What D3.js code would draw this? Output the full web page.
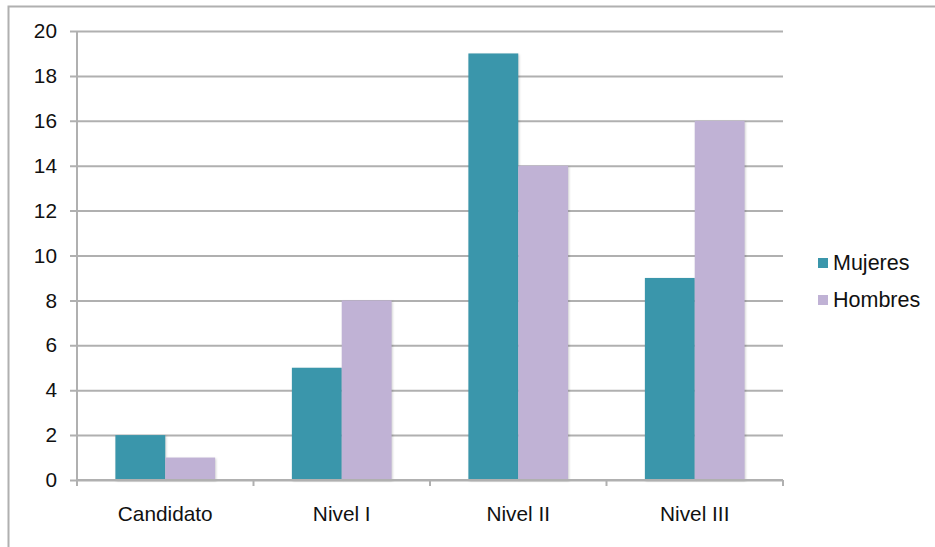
<!DOCTYPE html>
<html>
<head>
<meta charset="utf-8">
<script src="https://cdn.jsdelivr.net/npm/d3@7"></script>
<style>
  html, body { margin: 0; padding: 0; background: #fff; }
  svg { display: block; font-family: "Liberation Sans", Arial, Helvetica, sans-serif; }
</style>
</head>
<body>
<svg id="chart" width="935" height="547"></svg>
<script>
// Categories, series and values
const categories = ["Candidato", "Nivel I", "Nivel II", "Nivel III"];
const seriesNames = ["Mujeres", "Hombres"];
const mujeres = [2, 5, 19, 9];
const hombres = [1, 8, 14, 16];
const yTicks = [0, 2, 4, 6, 8, 10, 12, 14, 16, 18, 20];
const seriesColors = ["#3a96ab", "#c0b2d5"];

const seriesValues = [mujeres, hombres];
const data = categories.map((c, i) => ({
  category: c,
  values: seriesNames.map((s, j) => ({ series: s, value: seriesValues[j][i] }))
}));

const svg = d3.select("#chart");
const gridColor = "#b0b0b0";
const textColor = "#111";
const labelSize = 20.8;

// Outer frame
svg.append("rect")
  .attr("x", 8.5).attr("y", 6.5)
  .attr("width", 940).attr("height", 560)
  .attr("fill", "none").attr("stroke", gridColor).attr("stroke-width", 2);

const plot = { left: 77, right: 783, top: 31, bottom: 480 };

const x0 = d3.scaleBand().domain(categories).range([plot.left, plot.right]).padding(0);
const x1 = d3.scaleBand().domain(seriesNames)
  .range([x0.bandwidth() * 0.2175, x0.bandwidth() * 0.7825]).padding(0);
const y = d3.scaleLinear().domain([0, 20]).range([plot.bottom, plot.top]);

// Horizontal gridlines with tick stubs on the left
const yAxis = d3.axisLeft(y).tickValues(yTicks).tickSize(-(plot.right - plot.left)).tickPadding(20);
const gy = svg.append("g").attr("transform", `translate(${plot.left},0)`).call(yAxis);
gy.attr("font-size", null).attr("font-family", null);
gy.select(".domain").remove();
gy.selectAll(".tick line")
  .attr("x1", -7)
  .attr("stroke", gridColor).attr("stroke-width", 2);
gy.selectAll(".tick text")
  .style("font-size", labelSize + "px").attr("fill", textColor);

// Bars
const groups = svg.append("g").selectAll("g")
  .data(data).join("g")
  .attr("transform", d => `translate(${x0(d.category)},0)`);

groups.selectAll("rect")
  .data(d => d.values).join("rect")
  .attr("x", d => x1(d.series))
  .attr("y", d => y(d.value))
  .attr("width", x1.bandwidth())
  .attr("height", d => y(0) - y(d.value))
  .attr("fill", (d, i) => seriesColors[i])
  .style("filter", "drop-shadow(1px 1px 1px rgba(0,0,0,0.18))");

// Vertical axis line
svg.append("line")
  .attr("x1", plot.left).attr("x2", plot.left)
  .attr("y1", plot.top).attr("y2", plot.bottom + 6)
  .attr("stroke", gridColor).attr("stroke-width", 2);

// Category axis
const xAxis = d3.axisBottom(x0).tickSize(0).tickPadding(26);
const gx = svg.append("g").attr("transform", `translate(0,${plot.bottom})`).call(xAxis);
gx.attr("font-size", null).attr("font-family", null);
gx.select(".domain").attr("stroke", gridColor).attr("stroke-width", 2)
  .attr("d", `M${plot.left},0H${plot.right}`);
gx.selectAll(".tick text")
  .style("font-size", labelSize + "px").attr("fill", textColor);
// Boundary tick marks between categories
const bounds = categories.map(c => x0(c)).concat([plot.right]);
svg.append("g").selectAll("line").data(bounds).join("line")
  .attr("x1", d => d).attr("x2", d => d)
  .attr("y1", plot.bottom).attr("y2", plot.bottom + 6)
  .attr("stroke", gridColor).attr("stroke-width", 2);

// Legend
const legend = svg.append("g").attr("transform", "translate(818,258)");
const items = legend.selectAll("g").data(seriesNames).join("g")
  .attr("transform", (d, i) => `translate(0,${i * 37})`);
items.append("rect")
  .attr("width", 10).attr("height", 10)
  .attr("fill", (d, i) => seriesColors[i]);
items.append("text")
  .attr("x", 15).attr("y", 12)
  .style("font-size", "21.5px").attr("fill", textColor)
  .text(d => d);
</script>
</body>
</html>
